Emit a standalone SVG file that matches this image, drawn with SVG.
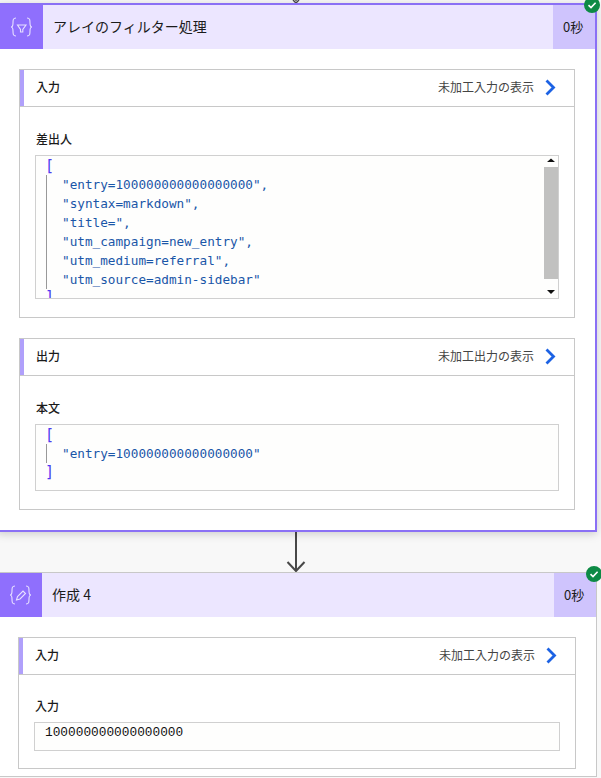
<svg xmlns="http://www.w3.org/2000/svg" width="601" height="778" viewBox="0 0 601 778">
<style>
.ui{font-family:"Noto Sans CJK JP","Noto Sans",sans-serif;fill:#1b1b1b}
.t13{font-size:14px}
.t12{font-size:12px;font-weight:500}
.dur{font-size:13px}
.lnk{font-size:12px;fill:#444}
.code{font-family:"DejaVu Sans Mono","Liberation Mono",monospace;font-size:12.7px;fill:#1a56a8}
.br{font-family:"DejaVu Sans Mono",monospace;font-size:15px;fill:#4d3bf0}
.mono{font-family:"Liberation Mono",monospace;font-size:12.8px;fill:#111}
.panel{fill:#fff;stroke:#c8c8c8;stroke-width:1}
.box{fill:#fefefd;stroke:#d0d0d0;stroke-width:1}
.acc{fill:#b0a0fb}
.chev{fill:none;stroke:#1c62e4;stroke-width:2.800}
.guide{stroke:#999;stroke-width:1}
.ic{fill:none;stroke:#e8e2ff;stroke-width:1.100}
</style>
<defs>
<filter id="sh" x="-5%" y="-5%" width="110%" height="110%"><feDropShadow dx="0" dy="2" stdDeviation="4" flood-color="#000" flood-opacity=".18"/></filter>
<g id="ok"><circle r="8" fill="#0d8a45"/><path d="M-3.500 0.200 -1 2.600 3.600 -2.200" fill="none" stroke="#fff" stroke-width="1.600"/></g>
<path id="braces" class="ic" d="M5 0C2 0 2 2 2 5 2 8 1.500 9 0 9 1.500 9 2 10 2 13 2 16 2 18 5 18M16 0C19 0 19 2 19 5 19 8 19.500 9 21 9 19.500 9 19 10 19 13 19 16 19 18 16 18"/>
</defs>
<rect width="601" height="778" fill="#f8f8f8"/>
<g id="connectors" fill="none" stroke="#484848">
<path d="M296 0V1M293 0 296 3 299 0" stroke-width="1.400"/>
<path d="M296 532V570M287.500 562 296 571 304.500 562" stroke-width="2"/>
</g>
<g id="node-filter">
<rect x="-2" y="4" width="598" height="527" fill="#fff" stroke="#8a70f5" stroke-width="2" filter="url(#sh)"/>
<rect x="0" y="5" width="595" height="44" fill="#ece6ff"/>
<rect x="0" y="5" width="43" height="44" fill="#8f6ffd"/>
<rect x="553" y="5" width="42" height="44" fill="#cfc4fd"/>
<use href="#braces" x="11" y="18"/>
<path class="ic" d="M17.500 25H26L22.800 29.500V32H20.500V29.500Z"/>
<text class="ui t13" x="53" y="32">アレイのフィルター処理</text>
<text class="ui dur" x="563" y="32">0秒</text>
<use href="#ok" x="592" y="5"/>
</g>
<g id="panel-input">
<rect class="panel" x="19.500" y="69.500" width="555" height="248"/>
<path d="M20 106.500H574" stroke="#c8c8c8"/>
<rect class="acc" x="20" y="70" width="4" height="36"/>
<text class="ui t12" x="36" y="92">入力</text>
<text class="ui lnk" x="438" y="92">未加工入力の表示</text>
<path class="chev" d="M546.500 80.500 553.500 87.500 546.500 94.500"/>
<text class="ui t12" x="36" y="144">差出人</text>
<svg x="35" y="155" width="524" height="144" viewBox="35 155 524 144">
<rect class="box" x="35.500" y="155.500" width="523" height="143"/>
<path class="guide" d="M46.500 175V289"/>
<text class="br" x="45" y="171">[</text>
<text class="code" x="62" y="188.500">"entry=100000000000000000",</text>
<text class="code" x="62" y="207.500">"syntax=markdown",</text>
<text class="code" x="62" y="226.500">"title=",</text>
<text class="code" x="62" y="245.500">"utm_campaign=new_entry",</text>
<text class="code" x="62" y="264.500">"utm_medium=referral",</text>
<text class="code" x="62" y="283.500">"utm_source=admin-sidebar"</text>
<text class="br" x="45" y="302">]</text>
<rect x="544" y="167" width="14" height="112" fill="#c1c1c0"/>
<path d="M547 162 551 158.500 555 162Z M547 290 555 290 551 294Z" fill="#111"/>
<rect class="box" x="35.500" y="155.500" width="523" height="143" style="fill:none"/>
</svg>
</g>
<g id="panel-output">
<rect class="panel" x="19.500" y="338.500" width="555" height="171"/>
<path d="M20 375.500H574" stroke="#c8c8c8"/>
<rect class="acc" x="20" y="339" width="4" height="36"/>
<text class="ui t12" x="36" y="361">出力</text>
<text class="ui lnk" x="438" y="361">未加工出力の表示</text>
<path class="chev" d="M546.500 349.500 553.500 356.500 546.500 363.500"/>
<text class="ui t12" x="36" y="413">本文</text>
<rect class="box" x="35.500" y="424.500" width="523" height="66"/>
<path class="guide" d="M46.500 444V463"/>
<text class="br" x="45" y="440">[</text>
<text class="code" x="62" y="457.500">"entry=100000000000000000"</text>
<text class="br" x="45" y="477">]</text>
</g>
<g id="node-compose">
<rect x="-2" y="572.500" width="598.500" height="204" fill="#fff" stroke="#c8c8c8"/>
<rect x="0" y="573" width="596" height="44" fill="#ece6ff"/>
<rect x="0" y="573" width="42" height="44" fill="#8f6ffd"/>
<rect x="554" y="573" width="42" height="44" fill="#cfc4fd"/>
<use href="#braces" x="10" y="586"/>
<path class="ic" d="M16.500 600 17.500 596.500 23 591 25.500 593.500 20 599Z"/>
<text class="ui t13" x="52" y="600">作成 4</text>
<text class="ui dur" x="564" y="600">0秒</text>
<use href="#ok" x="594" y="574"/>
</g>
<g id="panel-compose">
<rect class="panel" x="18.500" y="637.500" width="557" height="131"/>
<path d="M19 674.500H575" stroke="#c8c8c8"/>
<rect class="acc" x="19" y="638" width="4" height="36"/>
<text class="ui t12" x="35" y="660">入力</text>
<text class="ui lnk" x="439" y="660">未加工入力の表示</text>
<path class="chev" d="M547.500 648.500 554.500 655.500 547.500 662.500"/>
<text class="ui t12" x="35" y="711">入力</text>
<rect class="box" x="34.500" y="722.500" width="525" height="28"/>
<text class="mono" x="45" y="736">100000000000000000</text>
</g>
</svg>
